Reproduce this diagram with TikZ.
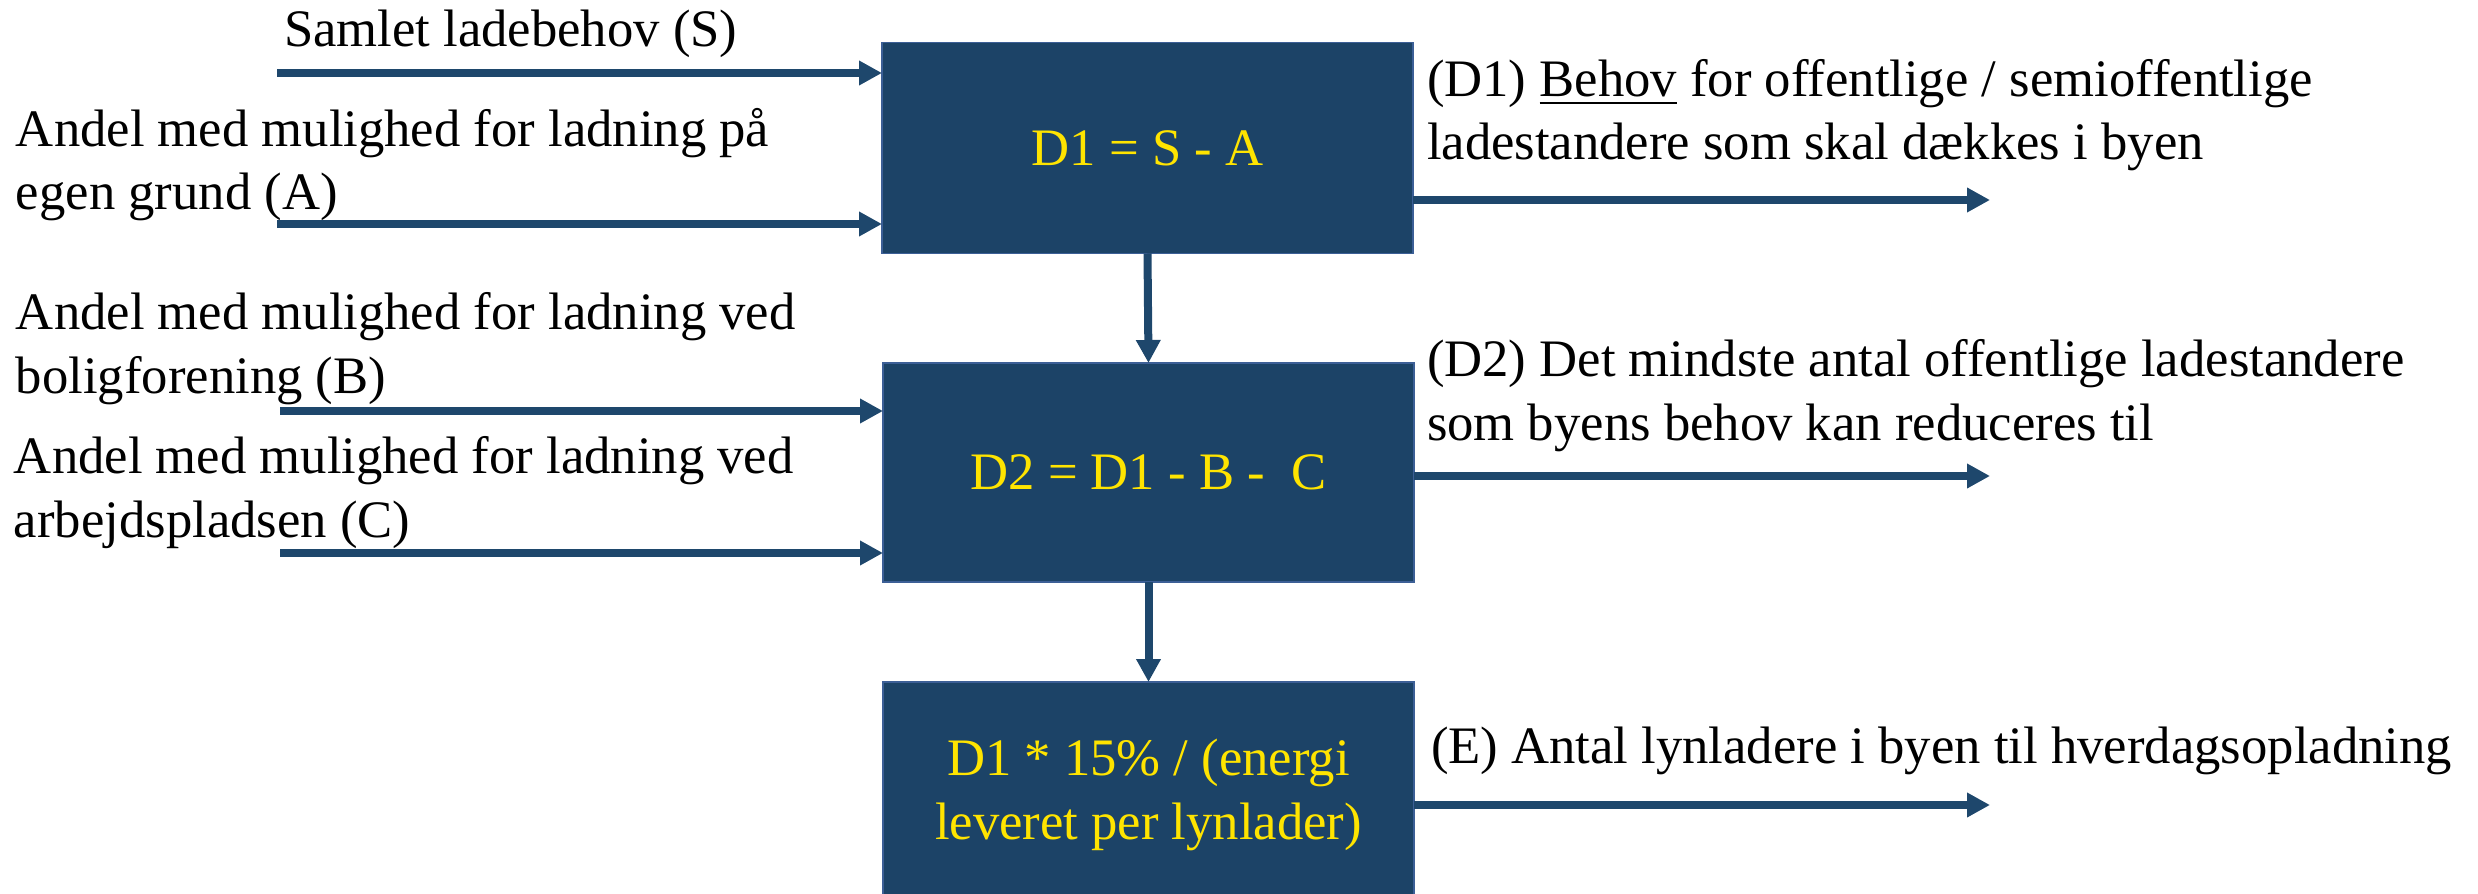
\documentclass[tikz,border=0pt]{standalone}
\usepackage{fontspec}
\setmainfont{Liberation Serif}
\usetikzlibrary{arrows.meta}
\definecolor{boxblue}{RGB}{28,67,103}
\definecolor{edgeblue}{RGB}{60,95,150}
\definecolor{arrowblue}{RGB}{30,71,108}
\definecolor{formula}{RGB}{255,228,0}
% underline with a slightly heavier rule
\newcommand\heavyul[1]{\setbox0\hbox{#1}\rlap{\rule[-2.3pt]{\wd0}{0.85pt}}\box0\relax}
\begin{document}
\begin{tikzpicture}[x=0.3pt,y=-0.3pt,
  every node/.style={font=\fontsize{15.8}{19}\selectfont, inner sep=0pt, outer sep=0pt},
  calcbox/.style={draw=edgeblue, line width=0.35pt, fill=boxblue, text=formula,
                  minimum width=159.3pt, align=center},
  sidetext/.style={anchor=base west, align=left, text=black},
  feed/.style={draw=arrowblue, line width=2.4pt,
               -{Triangle[width=7pt,length=6.9pt]}}]
\useasboundingbox (0,0) rectangle (2478,894);

% calculation boxes
\node[calcbox, minimum height=63.3pt] (b1) at (1147.5,148) {D1 = S - A};
\node[calcbox, minimum height=65.7pt] (b2) at (1148.5,472.5) {D2 = D1 - B -~ C};
\node[calcbox, minimum height=67.8pt] (b3) at (1148.5,795) {D1 * 15\% / (energi\\leveret per lynlader)};

% input texts (base anchor sits on the last line)
\node[sidetext] (tS) at (284,47) {Samlet ladebehov (S)};
\node[sidetext] (tA) at (16,210) {Andel med mulighed for ladning på\\egen grund (A)};
\node[sidetext] (tB) at (16,393) {Andel med mulighed for ladning ved\\boligforening (B)};
\node[sidetext] (tC) at (14,537) {Andel med mulighed for ladning ved\\arbejdspladsen (C)};

% output texts
\node[sidetext] (tD1) at (1427,160) {(D1) \heavyul{Behov} for offentlige / semioffentlige\\ladestandere som skal dækkes i byen};
\node[sidetext] (tD2) at (1427,440) {(D2) Det mindste antal offentlige ladestandere\\som byens behov kan reduceres til};
\node[sidetext] (tE) at (1431,763) {(E) Antal lynladere i byen til hverdagsopladning};

% arrow start and end points
\coordinate (inS) at (277,73);
\coordinate (inA) at (277,224);
\coordinate (inB) at (280,411);
\coordinate (inC) at (280,553);
\coordinate (outD1) at (1990,200);
\coordinate (outD2) at (1990,476);
\coordinate (outE) at (1990,805);

% inputs
\draw[feed] (inS) -- (inS -| b1.west);
\draw[feed] (inA) -- (inA -| b1.west);
\draw[feed] (inB) -- (inB -| b2.west);
\draw[feed] (inC) -- (inC -| b2.west);

% chain between boxes
\draw[feed] (b1.south) -- (b2.north);
\draw[feed] (b2.south) -- (b3.north);

% outputs
\draw[feed] (outD1 -| b1.east) -- (outD1);
\draw[feed] (outD2 -| b2.east) -- (outD2);
\draw[feed] (outE -| b3.east) -- (outE);
\end{tikzpicture}
\end{document}
